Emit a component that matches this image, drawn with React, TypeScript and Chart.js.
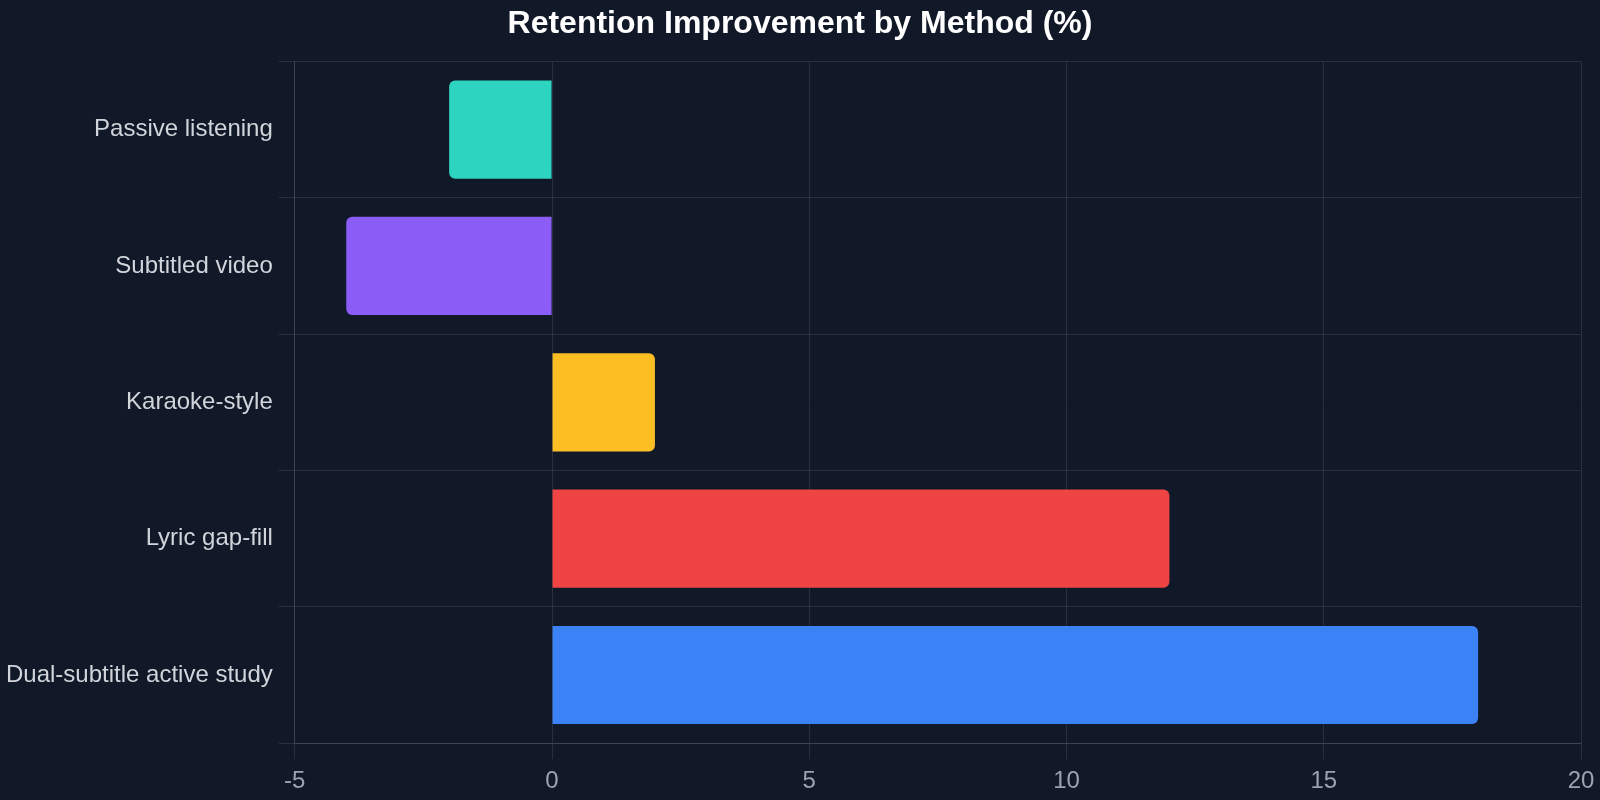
import { useRef, useEffect } from 'react';
import { Chart, registerables } from 'chart.js';

Chart.register(...registerables);

const methods = [
  'Passive listening',
  'Subtitled video',
  'Karaoke-style',
  'Lyric gap-fill',
  'Dual-subtitle active study',
];
const improvement = [-2, -4, 2, 12, 18];
const barColors = ['#2dd4bf', '#8b5cf6', '#fbbf24', '#ef4444', '#3b82f6'];

const FONT = 'Liberation Sans, Arial, sans-serif';
const GRID = 'rgba(255,255,255,0.1)';

const RetentionChart: React.FC = () => {
  const canvasRef = useRef<HTMLCanvasElement>(null);
  const chartRef = useRef<Chart | null>(null);

  useEffect(() => {
    if (!canvasRef.current) return;
    if (chartRef.current) chartRef.current.destroy();

    chartRef.current = new Chart(canvasRef.current, {
      type: 'bar',
      data: {
        labels: methods,
        datasets: [
          {
            label: 'Retention improvement (%)',
            data: improvement,
            backgroundColor: barColors,
            borderRadius: 6,
            borderSkipped: 'start',
          },
        ],
      },
      options: {
        indexAxis: 'y',
        animation: false,
        responsive: true,
        maintainAspectRatio: false,
        layout: { padding: { left: 0, right: 0, top: 0, bottom: -4 } },
        plugins: {
          legend: { display: false },
          tooltip: { enabled: false },
          title: {
            display: true,
            text: 'Retention Improvement by Method (%)',
            color: '#ffffff',
            font: { family: FONT, size: 32, weight: 'bold' },
            padding: { top: 5, bottom: 18 },
          },
        },
        scales: {
          x: {
            min: -5,
            max: 20,
            ticks: {
              stepSize: 5,
              color: '#9ca3af',
              font: { family: FONT, size: 24 },
              padding: 8,
            },
            grid: { color: GRID, tickLength: 16 },
            border: { color: GRID },
            afterFit: (scale) => {
              // fixed room on the right for the last tick label
              scale.paddingRight = 19;
            },
          },
          y: {
            ticks: {
              color: '#d1d5db',
              font: { family: FONT, size: 24 },
              padding: 6,
            },
            grid: { color: GRID, tickLength: 16, offset: true },
            border: { color: GRID },
          },
        },
      },
    });

    return () => {
      if (chartRef.current) {
        chartRef.current.destroy();
        chartRef.current = null;
      }
    };
  }, []);

  return <canvas ref={canvasRef} />;
};

export default function App() {
  useEffect(() => {
    document.body.style.margin = '0';
    document.body.style.background = '#111827';
  }, []);
  return (
    <div style={{ width: 1600, height: 800, background: '#111827', position: 'relative' }}>
      <RetentionChart />
    </div>
  );
}
